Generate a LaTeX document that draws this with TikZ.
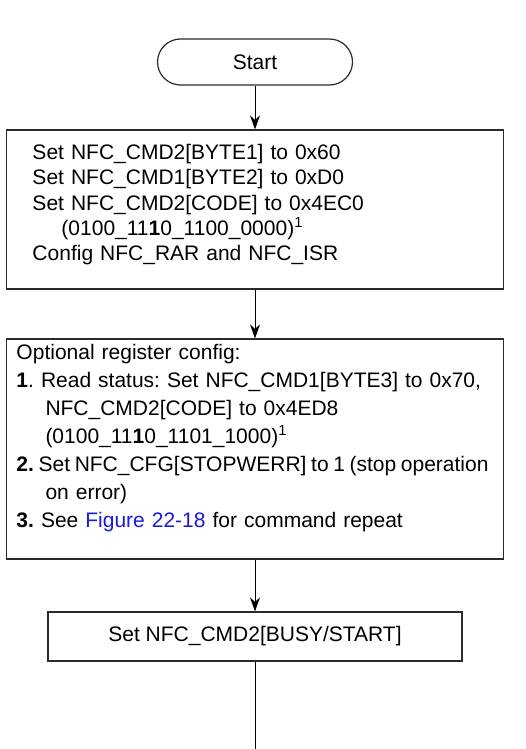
\documentclass[tikz,border=0pt]{standalone}
\usepackage{fontspec}
\setmainfont{Liberation Sans}
\usepackage{xcolor,tikz}
\usetikzlibrary{positioning,arrows.meta}
\definecolor{nfcLine}{HTML}{2B2B2B}
\definecolor{nfcLink}{HTML}{1A1AD9}

\tikzset{
  nfcbox/.style={rectangle, draw=nfcLine, line width=0.6pt,
    font=\fontsize{10.5}{12.65}\selectfont},
  nfcterm/.style={nfcbox, rounded corners=11.5pt,
    minimum width=97.5pt, minimum height=23pt},
  nfcflow/.style={draw=black, line width=0.5pt,
    -{Stealth[length=7pt,width=5pt]}},
}
\newcommand{\nfcindent}{\hspace*{14.5pt}}
\frenchspacing

\begin{document}
\begin{tikzpicture}[x=0.5pt,y=-0.5pt]
\useasboundingbox (0,0) rectangle (525,749);

% --- terminal ---
\node[nfcterm] (start) at (255,62) {Start};

% --- command setup ---
\node[nfcbox, align=left, text width=222.5pt, inner xsep=13pt, inner ysep=0pt,
      text height=14.75pt, text depth=64.75pt]
  (setup) at (255,209.5)
  {Set NFC\_CMD2[BYTE1] to 0x60\\
   Set NFC\_CMD1[BYTE2] to 0xD0\\
   Set NFC\_CMD2[CODE] to 0x4EC0\\
   \nfcindent(0100\_11\textbf{1}0\_1100\_0000)\textsuperscript{1}\\
   Config NFC\_RAR and NFC\_ISR};

% --- optional config ---
\node[nfcbox, font=\fontsize{10.5}{14}\selectfont, align=left,
      text width=238.5pt, inner xsep=5pt, inner ysep=0pt,
      text height=10.25pt, text depth=99.75pt]
  (optcfg) at (255,449)
  {Optional register config:\\
   \textbf{1}. Read status: Set NFC\_CMD1[BYTE3] to 0x70,\\
   \nfcindent NFC\_CMD2[CODE] to 0x4ED8\\
   \nfcindent(0100\_11\textbf{1}0\_1101\_1000)\textsuperscript{1}\\
   \mbox{\spaceskip=0.22em\textbf{2.} Set NFC\_CFG[STOPWERR] to 1 (stop operation}\\
   \nfcindent on error)\\
   \textbf{3.} See \textcolor{nfcLink}{Figure 22-18} for command repeat};

% --- start bit ---
\node[nfcbox, minimum width=207pt, minimum height=24.5pt]
  (busy) at (255,636.5) {Set NFC\_CMD2[BUSY/START]};
\coordinate (busyout) at (255,749);

% --- connectors ---
\draw[nfcflow] (start) -- (setup);
\draw[nfcflow] (setup) -- (optcfg);
\draw[nfcflow] (optcfg) -- (busy);
\draw[draw=black, line width=0.5pt] (busy) -- (busyout);

\end{tikzpicture}
\end{document}
